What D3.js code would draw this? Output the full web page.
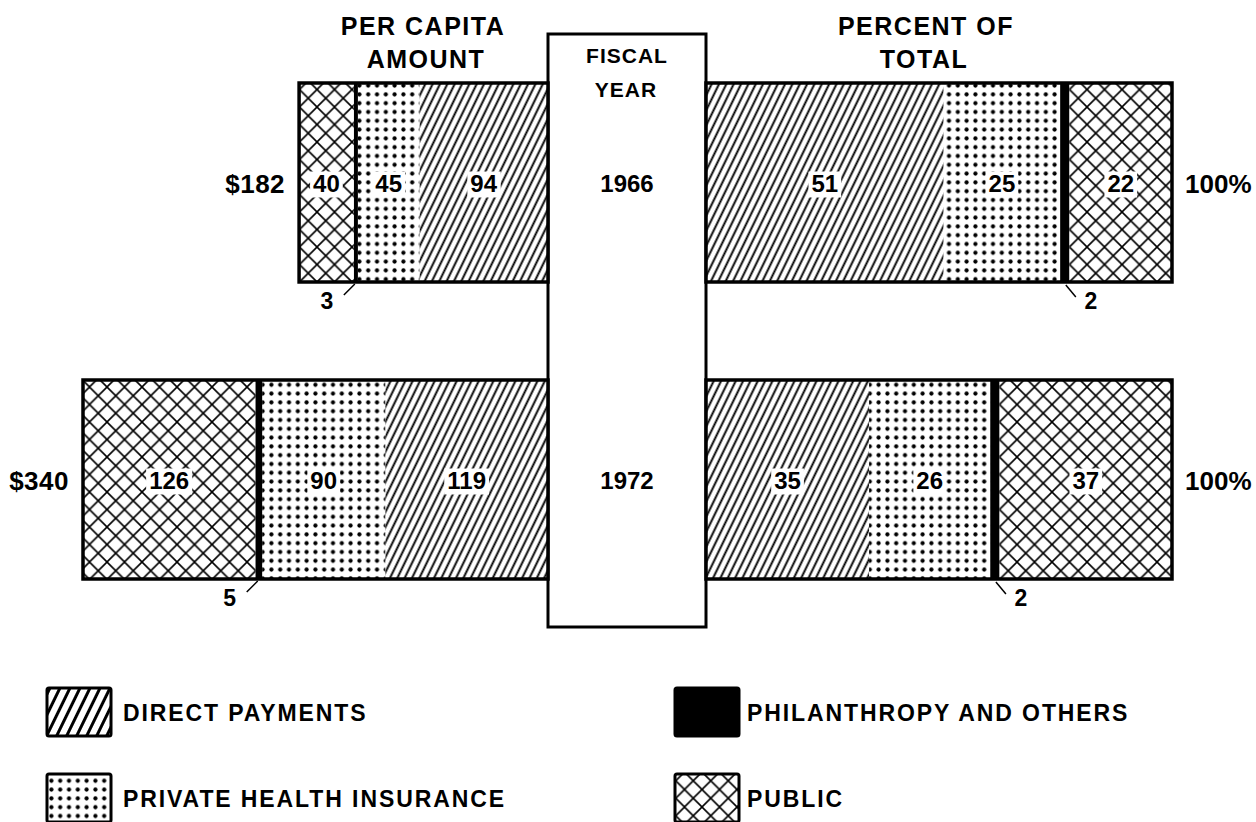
<!DOCTYPE html>
<html>
<head>
<meta charset="utf-8">
<script src="https://cdn.jsdelivr.net/npm/d3@7"></script>
<style>
  html, body { margin: 0; padding: 0; background: #fff; }
  svg { display: block; }
  text { font-family: "Liberation Sans", Arial, Helvetica, sans-serif; font-weight: bold; fill: #000; }
</style>
</head>
<body>
<div id="chart"></div>
<script>
// Fiscal years and totals
const years = ["1966", "1972"];
const perCapitaTotals = [182, 340];

// Categories, listed from the centre box outward
const categories = ["DIRECT PAYMENTS", "PRIVATE HEALTH INSURANCE", "PHILANTHROPY AND OTHERS", "PUBLIC"];
const categoryKeys = ["direct", "private", "philanthropy", "public"];

// Per capita amounts ($), same order as categories
const perCapita1966 = [94, 45, 3, 40];
const perCapita1972 = [119, 90, 5, 126];

// Percent of total, same order as categories
const percent1966 = [51, 25, 2, 22];
const percent1972 = [35, 26, 2, 37];

const perCapitaByYear = [perCapita1966, perCapita1972];
const percentByYear = [percent1966, percent1972];

const width = 1256;
const height = 822;
const boxLeft = 548;
const boxRight = 706;
const barTops = [83, 380];
const barHeight = 199;

const svg = d3.select("#chart").append("svg").attr("width", width).attr("height", height);

// --- fill patterns ---
const defs = svg.append("defs");

function hatchPattern(id, size, sw) {
  const p = defs.append("pattern")
    .attr("id", id)
    .attr("patternUnits", "userSpaceOnUse")
    .attr("width", size).attr("height", size)
    .attr("patternTransform", "rotate(26)");
  p.append("rect").attr("width", size).attr("height", size).attr("fill", "#fff");
  p.append("line").attr("x1", size / 2).attr("y1", -1).attr("x2", size / 2).attr("y2", size + 1)
    .attr("stroke", "#000").attr("stroke-width", sw);
}
hatchPattern("direct", 6.6, 1.9);
hatchPattern("direct-legend", 9, 3);

const dots = defs.append("pattern")
  .attr("id", "private")
  .attr("patternUnits", "userSpaceOnUse")
  .attr("width", 8.8).attr("height", 8.8)
  .attr("x", 3).attr("y", 2);
dots.append("rect").attr("width", 8.8).attr("height", 8.8).attr("fill", "#fff");
dots.append("circle").attr("cx", 4.4).attr("cy", 4.4).attr("r", 2.1).attr("fill", "#000");

const cross = defs.append("pattern")
  .attr("id", "public")
  .attr("patternUnits", "userSpaceOnUse")
  .attr("width", 17.5).attr("height", 17.5)
  .attr("x", 2).attr("y", 2);
cross.append("rect").attr("width", 17.5).attr("height", 17.5).attr("fill", "#fff");
cross.append("path").attr("d", "M0,0L17.5,17.5M0,17.5L17.5,0")
  .attr("stroke", "#000").attr("stroke-width", 1.6).attr("fill", "none");

const fillFor = (key) => key === "philanthropy" ? "#000" : `url(#${key})`;

// --- scales ---
const xDollar = d3.scaleLinear().domain([0, 340]).range([boxLeft, 83]);
const xPct = d3.scaleLinear().domain([0, 100]).range([boxRight, 1172]);

// --- headers ---
const header = svg.append("g").attr("text-anchor", "middle")
  .style("font-size", "25px").style("letter-spacing", "1.5px");
header.append("text").attr("x", 423).attr("y", 35).text("PER CAPITA");
header.append("text").attr("x", 426).attr("y", 68).text("AMOUNT");
header.append("text").attr("x", 926).attr("y", 35).text("PERCENT OF");
header.append("text").attr("x", 924).attr("y", 68).text("TOTAL");

// --- centre box ---
svg.append("rect")
  .attr("x", boxLeft).attr("y", 34)
  .attr("width", boxRight - boxLeft).attr("height", 593)
  .attr("fill", "#fff").attr("stroke", "#000").attr("stroke-width", 3);
const boxText = svg.append("g").attr("text-anchor", "middle")
  .style("font-size", "21px").style("letter-spacing", "1px");
boxText.append("text").attr("x", 627).attr("y", 63).text("FISCAL");
boxText.append("text").attr("x", 626).attr("y", 97).text("YEAR");

function valueLabel(g, x, y, txt) {
  const t = g.append("text")
    .attr("x", x).attr("y", y + 9)
    .attr("text-anchor", "middle")
    .style("font-size", "24px")
    .text(txt);
  const bb = t.node().getBBox();
  g.insert("rect", () => t.node())
    .attr("x", bb.x - 3).attr("y", bb.y + 2)
    .attr("width", bb.width + 6).attr("height", bb.height - 1)
    .attr("fill", "#fff");
}

years.forEach((year, i) => {
  const top = barTops[i];
  const bottom = top + barHeight;
  const midY = top + barHeight / 2;
  const g = svg.append("g");

  // left: per capita amounts
  const dollars = perCapitaByYear[i];
  const dEnds = d3.cumsum(dollars);
  const leftSegs = dollars.map((v, k) => ({ key: categoryKeys[k], v, x0: xDollar(dEnds[k]), x1: xDollar(dEnds[k] - v) }));
  g.selectAll("rect.left").data(leftSegs).join("rect")
    .attr("class", "left")
    .attr("x", d => d.x0).attr("y", top)
    .attr("width", d => d.x1 - d.x0).attr("height", barHeight)
    .attr("fill", d => fillFor(d.key));

  // right: percent of total
  const pcts = percentByYear[i];
  const pEnds = d3.cumsum(pcts);
  const rightSegs = pcts.map((v, k) => ({ key: categoryKeys[k], v, x0: xPct(pEnds[k] - v), x1: xPct(pEnds[k]) }));
  g.selectAll("rect.right").data(rightSegs).join("rect")
    .attr("class", "right")
    .attr("x", d => d.x0).attr("y", top)
    .attr("width", d => d.x1 - d.x0).attr("height", barHeight)
    .attr("fill", d => fillFor(d.key));

  // outlines
  g.append("rect")
    .attr("x", xDollar(perCapitaTotals[i])).attr("y", top)
    .attr("width", boxLeft - xDollar(perCapitaTotals[i])).attr("height", barHeight)
    .attr("fill", "none").attr("stroke", "#000").attr("stroke-width", 3.5);
  g.append("rect")
    .attr("x", boxRight).attr("y", top)
    .attr("width", xPct(100) - boxRight).attr("height", barHeight)
    .attr("fill", "none").attr("stroke", "#000").attr("stroke-width", 3.5);

  // in-bar values (philanthropy is called out below)
  leftSegs.concat(rightSegs).filter(d => d.key !== "philanthropy").forEach(d => {
    valueLabel(g, (d.x0 + d.x1) / 2, midY, d.v);
  });

  // philanthropy callouts
  const phL = leftSegs.find(d => d.key === "philanthropy");
  const cl = (phL.x0 + phL.x1) / 2;
  g.append("line").attr("x1", cl - 1).attr("y1", bottom + 2).attr("x2", cl - 12).attr("y2", bottom + 13)
    .attr("stroke", "#000").attr("stroke-width", 1.5);
  g.append("text").attr("x", cl - 29).attr("y", bottom + 27).attr("text-anchor", "middle")
    .style("font-size", "23px").text(phL.v);

  const phR = rightSegs.find(d => d.key === "philanthropy");
  const cr = (phR.x0 + phR.x1) / 2;
  g.append("line").attr("x1", cr + 1).attr("y1", bottom + 3).attr("x2", cr + 11).attr("y2", bottom + 15)
    .attr("stroke", "#000").attr("stroke-width", 1.5);
  g.append("text").attr("x", cr + 26).attr("y", bottom + 27).attr("text-anchor", "middle")
    .style("font-size", "23px").text(phR.v);

  // totals and year
  g.append("text").attr("x", xDollar(perCapitaTotals[i]) - 14).attr("y", midY + 10)
    .attr("text-anchor", "end").style("font-size", "26px").style("letter-spacing", "0.5px")
    .text("$" + perCapitaTotals[i]);
  g.append("text").attr("x", xPct(100) + 13).attr("y", midY + 10)
    .style("font-size", "26px").text(d3.sum(pcts) + "%");
  g.append("text").attr("x", 627).attr("y", midY + 9)
    .attr("text-anchor", "middle").style("font-size", "24px").text(year);
});

// --- legend ---
const legendPos = [[47, 688, 76], [47, 774, 76], [675, 688, 72], [675, 774, 72]];
const legend = svg.append("g");
categoryKeys.forEach((key, j) => {
  const [lx, ly, gap] = legendPos[j];
  legend.append("rect")
    .attr("x", lx).attr("y", ly).attr("width", 64).attr("height", 48)
    .attr("fill", key === "direct" ? "url(#direct-legend)" : fillFor(key))
    .attr("stroke", "#000").attr("stroke-width", 3).attr("rx", 2);
  legend.append("text")
    .attr("x", lx + gap).attr("y", ly + 33)
    .style("font-size", "23px").style("letter-spacing", "1.9px")
    .text(categories[j]);
});
</script>
</body>
</html>
